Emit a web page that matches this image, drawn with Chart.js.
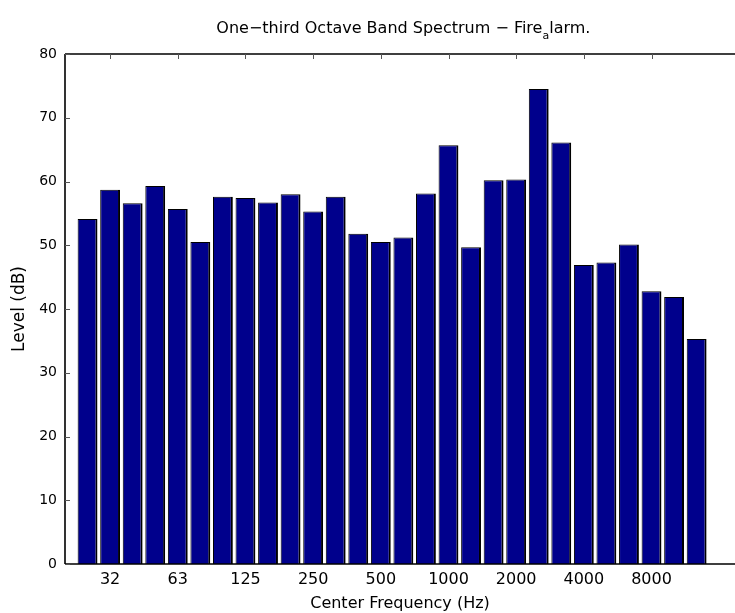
<!DOCTYPE html>
<html>
<head>
<meta charset="utf-8">
<script src="https://cdn.jsdelivr.net/npm/chart.js@4/dist/chart.umd.min.js"></script>
<style>
  html, body { margin: 0; padding: 0; background: #fff; overflow: hidden; }
  canvas { display: block; }
</style>
</head>
<body>
<canvas id="spectrum" width="735" height="613"></canvas>
<script>
// One-third octave band centre frequencies (Hz), one bar per band
const bands = [25, 31.5, 40, 50, 63, 80, 100, 125, 160, 200, 250, 315, 400, 500,
               630, 800, 1000, 1250, 1600, 2000, 2500, 3150, 4000, 5000, 6300, 8000,
               10000, 12500];
// Band levels in dB
const levels = [54.1, 58.7, 56.6, 59.3, 55.7, 50.5, 57.6, 57.4, 56.7, 58.0, 55.3, 57.6,
                51.8, 50.5, 51.2, 58.1, 65.7, 49.7, 60.2, 60.3, 74.5, 66.1, 46.9, 47.3,
                50.1, 42.8, 41.9, 35.3];
// Octave ticks: bar number and its label
const tickBars = [2, 5, 8, 11, 14, 17, 20, 23, 26];
const tickLabels = ['32', '63', '125', '250', '500', '1000', '2000', '4000', '8000'];
// Level axis ticks
const levelTicks = [0, 10, 20, 30, 40, 50, 60, 70, 80];

const FONT = 'DejaVu Sans, Verdana, sans-serif';
const titleMain = 'One\u2212third Octave Band Spectrum \u2212 Fire';
const titleSub = 'a';
const titleTail = 'larm.';

// Axes box with inward ticks, drawn over the bars
const axesBox = {
  id: 'axesBox',
  beforeDatasetsDraw(chart) {
    const { ctx, chartArea: a, scales: { x } } = chart;
    ctx.save();
    ctx.strokeStyle = '#000';
    ctx.lineWidth = 1;
    ctx.beginPath();
    tickBars.forEach(b => {
      const px = Math.round(x.getPixelForValue(b)) + 0.5;
      ctx.moveTo(px, a.bottom);
      ctx.lineTo(px, a.bottom - 5);
    });
    ctx.stroke();
    ctx.restore();
  },
  afterDatasetsDraw(chart) {
    const { ctx, chartArea: a, scales: { x, y } } = chart;
    ctx.save();
    ctx.strokeStyle = '#000';
    ctx.lineWidth = 1.6;
    ctx.beginPath();
    ctx.moveTo(a.left, a.top);
    ctx.lineTo(chart.width, a.top);
    ctx.moveTo(a.left, a.top);
    ctx.lineTo(a.left, a.bottom);
    ctx.moveTo(a.left, a.bottom);
    ctx.lineTo(chart.width, a.bottom);
    ctx.stroke();

    ctx.lineWidth = 1;
    ctx.strokeStyle = '#555';
    ctx.beginPath();
    levelTicks.forEach(v => {
      const py = Math.round(y.getPixelForValue(v)) + 0.5;
      ctx.moveTo(a.left, py);
      ctx.lineTo(a.left + 5, py);
    });
    tickBars.forEach(b => {
      const px = Math.round(x.getPixelForValue(b)) + 0.5;
      ctx.moveTo(px, a.top);
      ctx.lineTo(px, a.top + 5);
    });
    ctx.stroke();
    ctx.restore();
  },
  afterDraw(chart) {
    // Title with a subscripted "a" (TeX-style underscore)
    const { ctx, chartArea: a, scales: { x } } = chart;
    const cx = x.getPixelForValue(15);
    ctx.save();
    ctx.fillStyle = '#000';
    ctx.textBaseline = 'alphabetic';
    ctx.textAlign = 'left';
    const mainFont = '16px ' + FONT;
    const subFont = '11px ' + FONT;
    ctx.font = mainFont;
    const w1 = ctx.measureText(titleMain).width;
    const w3 = ctx.measureText(titleTail).width;
    ctx.font = subFont;
    const w2 = ctx.measureText(titleSub).width;
    let tx = cx - (w1 + w2 + w3) / 2;
    const base = a.top - 21;
    ctx.font = mainFont;
    ctx.fillText(titleMain, tx, base);
    tx += w1;
    ctx.font = subFont;
    ctx.fillText(titleSub, tx, base + 6);
    tx += w2;
    ctx.font = mainFont;
    ctx.fillText(titleTail, tx, base);
    ctx.restore();
  }
};

new Chart(document.getElementById('spectrum'), {
  type: 'bar',
  data: {
    labels: bands,
    datasets: [{
      label: 'Level',
      data: levels.map((v, i) => ({ x: i + 1, y: v })),
      backgroundColor: '#00008c',
      borderColor: '#000',
      borderWidth: { top: 1, left: 1, right: 2, bottom: 0 },
      borderSkipped: false,
      barPercentage: 0.88,
      categoryPercentage: 1.0
    }]
  },
  options: {
    responsive: false,
    animation: false,
    events: [],
    layout: { padding: { top: 54, right: 0, bottom: 0, left: 0 } },
    plugins: {
      legend: { display: false },
      tooltip: { enabled: false },
      title: { display: false }
    },
    scales: {
      x: {
        type: 'linear',
        min: 0,
        max: 29.7,
        offset: false,
        grid: { display: false, drawTicks: false },
        border: { display: false },
        afterBuildTicks: s => { s.ticks = tickBars.map(v => ({ value: v })); },
        afterFit: s => { s.height = 49; },
        ticks: {
          autoSkip: false,
          maxRotation: 0,
          padding: 6,
          color: '#000',
          font: { family: FONT, size: 16 },
          callback: v => tickLabels[tickBars.indexOf(v)]
        },
        title: {
          display: true,
          text: 'Center Frequency (Hz)',
          color: '#000',
          font: { family: FONT, size: 16 },
          padding: { top: 0, bottom: 0 }
        }
      },
      y: {
        min: 0,
        max: 80,
        grid: { display: false, drawTicks: false },
        border: { display: false },
        afterBuildTicks: s => { s.ticks = levelTicks.map(v => ({ value: v })); },
        afterFit: s => { s.width = 65; },
        ticks: {
          padding: 8,
          color: '#000',
          font: { family: FONT, size: 14 }
        },
        title: {
          display: true,
          text: 'Level (dB)',
          color: '#000',
          font: { family: FONT, size: 17 },
          padding: { top: 9, bottom: 0 }
        }
      }
    }
  },
  plugins: [axesBox]
});
</script>
</body>
</html>
